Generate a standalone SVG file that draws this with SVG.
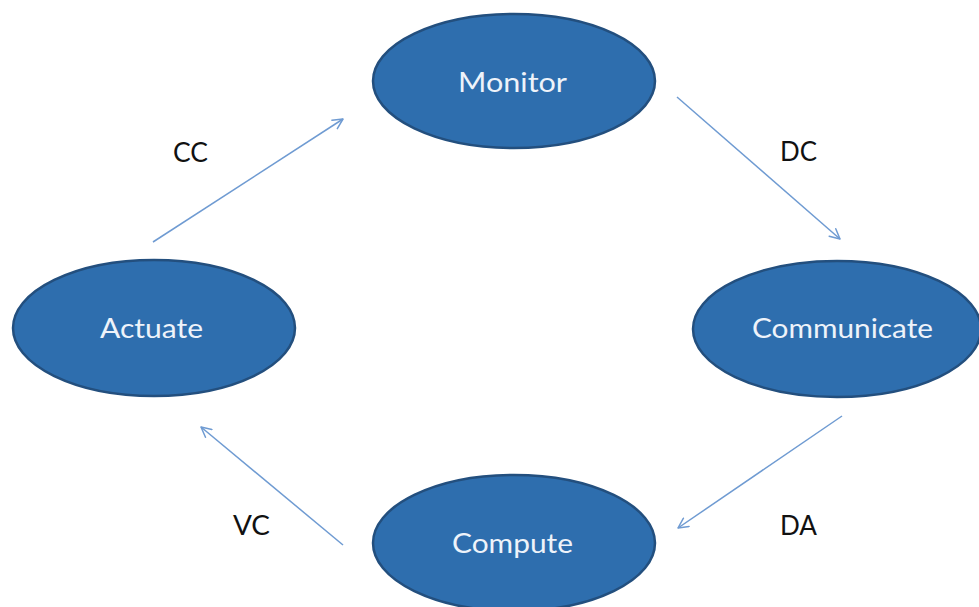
<svg xmlns="http://www.w3.org/2000/svg" width="979" height="607" viewBox="0 0 979 607">
  <style>
    .node ellipse { fill: #2e6eae; stroke: #234f7e; stroke-width: 2.5; }
    .node text { fill: #eef3fa; font-family: Lato, "Open Sans", "Liberation Sans", sans-serif; font-size: 27px; text-anchor: middle; }
    .label { fill: #111; font-family: Lato, "Open Sans", "Liberation Sans", sans-serif; font-size: 26px; }
    .edge { stroke: #6f9bd2; stroke-width: 1.5; fill: none; marker-end: url(#arrow); }
  </style>
  <defs>
    <marker id="arrow" viewBox="0 0 12 12" refX="11" refY="6" markerWidth="12" markerHeight="12" markerUnits="userSpaceOnUse" orient="auto">
      <path d="M1,1 L11,6 L1,11" fill="none" stroke="#6f9bd2" stroke-width="1.5" stroke-linecap="round" stroke-linejoin="round"/>
    </marker>
  </defs>
  <rect width="979" height="607" fill="#ffffff"/>

  <g id="connectors">
    <line class="edge" x1="153" y1="242" x2="343" y2="119"/>
    <line class="edge" x1="677" y1="97" x2="840" y2="239"/>
    <line class="edge" x1="842" y1="416" x2="678" y2="528"/>
    <line class="edge" x1="343" y1="545" x2="201" y2="427"/>
    <text class="label" x="173" y="162" textLength="35" lengthAdjust="spacingAndGlyphs">CC</text>
    <text class="label" x="780" y="161" textLength="37" lengthAdjust="spacingAndGlyphs">DC</text>
    <text class="label" x="780" y="535" textLength="37" lengthAdjust="spacingAndGlyphs">DA</text>
    <text class="label" x="233" y="535" textLength="37" lengthAdjust="spacingAndGlyphs">VC</text>
  </g>

  <g id="monitor" class="node">
    <ellipse cx="514" cy="81" rx="141" ry="67"/>
    <text x="512.5" y="92" textLength="109" lengthAdjust="spacingAndGlyphs">Monitor</text>
  </g>
  <g id="communicate" class="node">
    <ellipse cx="837" cy="329" rx="144" ry="68"/>
    <text x="842.5" y="338" textLength="181" lengthAdjust="spacingAndGlyphs">Communicate</text>
  </g>
  <g id="compute" class="node">
    <ellipse cx="514" cy="543" rx="141" ry="68"/>
    <text x="512.5" y="553" textLength="121" lengthAdjust="spacingAndGlyphs">Compute</text>
  </g>
  <g id="actuate" class="node">
    <ellipse cx="154" cy="328" rx="141" ry="68"/>
    <text x="151.5" y="338" textLength="103" lengthAdjust="spacingAndGlyphs">Actuate</text>
  </g>
</svg>
